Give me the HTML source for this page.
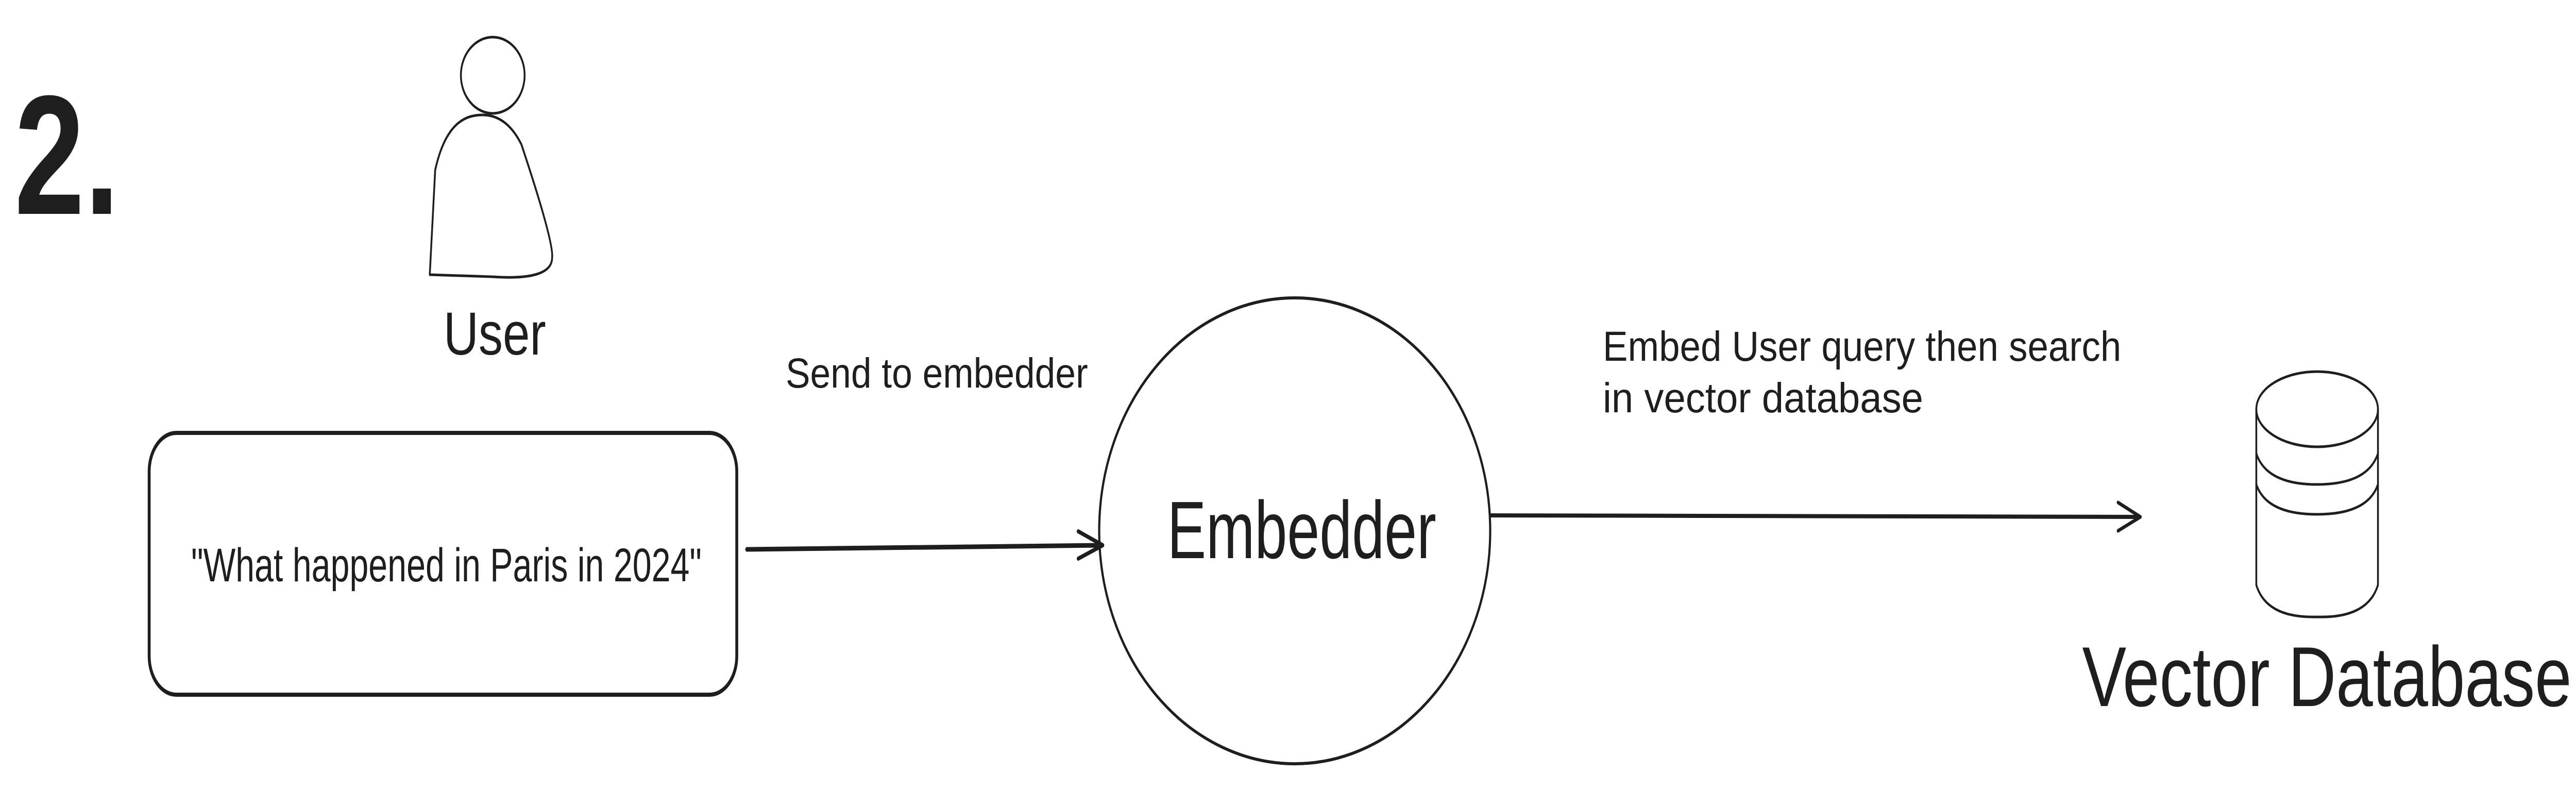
<!DOCTYPE html>
<html><head><meta charset="utf-8"><style>
html,body{margin:0;padding:0;background:#fff;width:100%;height:100%;overflow:hidden;}
svg{display:block;width:100vw;height:100vh;}
text{font-family:"Liberation Sans",sans-serif;fill:#1e1e1e;}
</style></head><body>
<svg viewBox="0 0 7115 1562" preserveAspectRatio="none" xmlns="http://www.w3.org/2000/svg">
<rect width="7115" height="1562" fill="#fff"/>
<g fill="none" stroke="#1e1e1e" stroke-linecap="round" stroke-linejoin="round">
<ellipse cx="1361" cy="146" rx="88" ry="74" stroke-width="5"/>
<path d="M1187 533 L1202 330 Q1230 240 1300 226 Q1390 210 1440 280 Q1530 470 1525 500 Q1525 545 1360 537 Z" stroke-width="5"/>
<rect x="412" y="840" width="1623" height="508" rx="75" ry="75" stroke-width="8"/>
<path d="M2063 1066 L3045 1058" stroke-width="9"/>
<path d="M2978 1031 L3046 1058 L2978 1084" stroke-width="8"/>
<ellipse cx="3576" cy="1030" rx="540" ry="452" stroke-width="6"/>
<path d="M4117 1000 L5910 1003" stroke-width="8"/>
<path d="M5850 975 L5912 1003 L5850 1030" stroke-width="7"/>
<ellipse cx="6400" cy="794" rx="168" ry="73" stroke-width="5"/>
<path d="M6232 794 L6232 1135 Q6260 1200 6400 1197 Q6540 1200 6568 1135 L6568 794" stroke-width="5"/>
<path d="M6232 880 Q6260 940 6400 940 Q6540 940 6568 880" stroke-width="5"/>
<path d="M6232 940 Q6260 998 6400 998 Q6540 998 6568 940" stroke-width="5"/>
</g>
<text x="40" y="415" font-size="330" font-weight="bold" textLength="290" lengthAdjust="spacingAndGlyphs">2.</text>
<text x="1225" y="688" font-size="118" textLength="283" lengthAdjust="spacingAndGlyphs">User</text>
<text x="528" y="1128" font-size="92" textLength="1410" lengthAdjust="spacingAndGlyphs">"What happened in Paris in 2024"</text>
<text x="2170" y="752" font-size="82" textLength="835" lengthAdjust="spacingAndGlyphs">Send to embedder</text>
<text x="3224" y="1083" font-size="158" textLength="743" lengthAdjust="spacingAndGlyphs">Embedder</text>
<text x="4427" y="700" font-size="82" textLength="1432" lengthAdjust="spacingAndGlyphs">Embed User query then search</text>
<text x="4427" y="800" font-size="82" textLength="885" lengthAdjust="spacingAndGlyphs">in vector database</text>
<text x="5751" y="1370" font-size="165" textLength="1352" lengthAdjust="spacingAndGlyphs">Vector Database</text>
</svg>
</body></html>
